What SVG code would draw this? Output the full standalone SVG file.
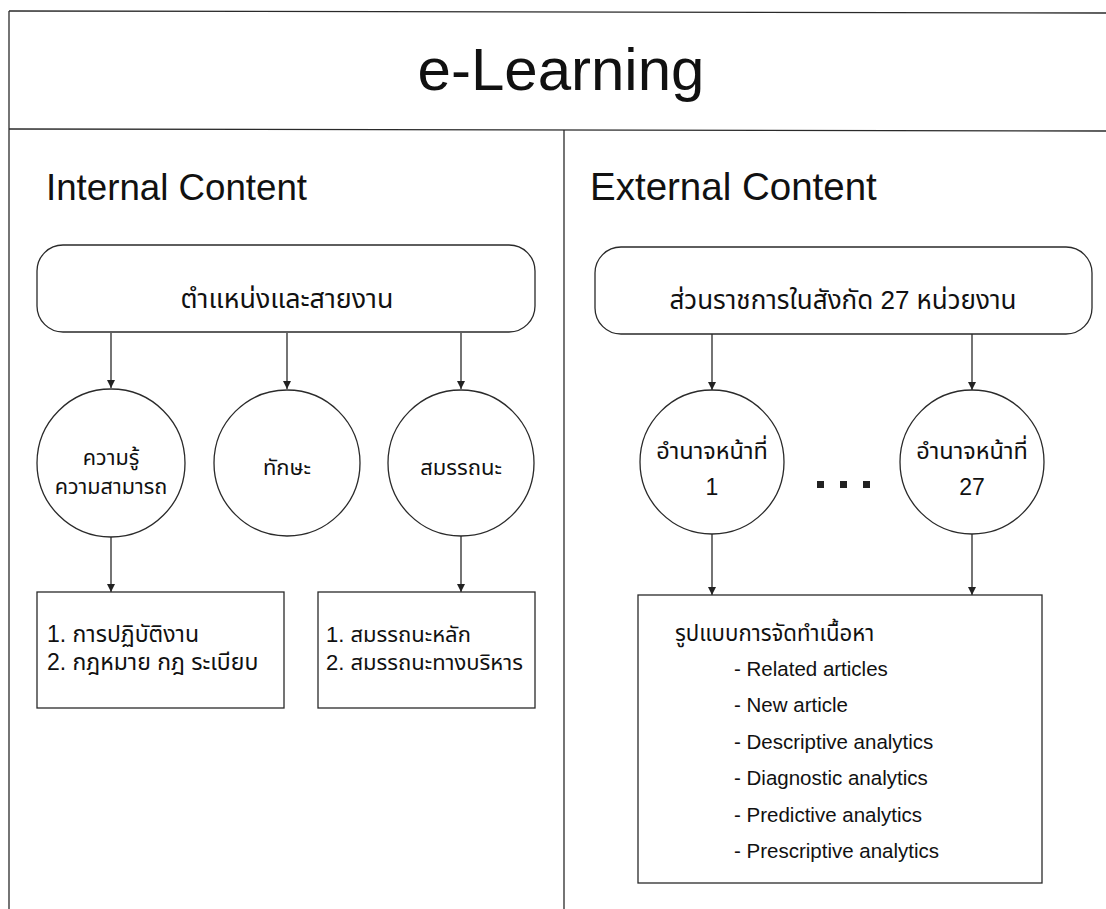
<svg xmlns="http://www.w3.org/2000/svg" width="1106" height="909" viewBox="0 0 1106 909">
<style>
.ln{stroke:#2a2a2a;stroke-width:1.3;fill:none}
.shp{stroke:#2a2a2a;stroke-width:1.3;fill:#fff}
.t{font-family:"Liberation Sans","Noto Sans Thai","Noto Sans",sans-serif;fill:#111}
.c{text-anchor:middle}
</style>
<defs>
<marker id="ah" viewBox="0 0 10 10" refX="10" refY="5" markerWidth="8" markerHeight="8" markerUnits="userSpaceOnUse" orient="auto">
<path d="M0,0 L10,5 L0,10 z" fill="#222"/>
</marker>
</defs>
<rect width="1106" height="909" fill="#fff"/>
<g id="frame">
<line class="ln" x1="9" y1="11" x2="1106" y2="13"/>
<line class="ln" x1="9" y1="11" x2="9" y2="909"/>
<line class="ln" x1="9" y1="129" x2="1106" y2="131"/>
<line class="ln" x1="564" y1="130" x2="564" y2="909"/>
</g>
<text id="title" class="t c" x="561" y="90" font-size="60">e-Learning</text>
<text id="internal" class="t" x="46" y="200" font-size="36.7">Internal Content</text>
<text id="external" class="t" x="590" y="200" font-size="38.5">External Content</text>
<g id="connectors">
<line class="ln" x1="111" y1="333" x2="111" y2="388" marker-end="url(#ah)"/>
<line class="ln" x1="287" y1="333" x2="287" y2="389" marker-end="url(#ah)"/>
<line class="ln" x1="461" y1="333" x2="461" y2="389" marker-end="url(#ah)"/>
<line class="ln" x1="111" y1="537" x2="111" y2="592" marker-end="url(#ah)"/>
<line class="ln" x1="461" y1="536" x2="461" y2="592" marker-end="url(#ah)"/>
<line class="ln" x1="712" y1="334" x2="712" y2="390" marker-end="url(#ah)"/>
<line class="ln" x1="972" y1="334" x2="972" y2="390" marker-end="url(#ah)"/>
<line class="ln" x1="712" y1="534" x2="712" y2="595" marker-end="url(#ah)"/>
<line class="ln" x1="972" y1="534" x2="972" y2="595" marker-end="url(#ah)"/>
</g>
<g id="position">
<rect class="shp" x="37" y="245" width="498" height="87" rx="26"/>
<text class="t c" x="287" y="308" font-size="26.8">ตำแหน่งและสายงาน</text>
</g>
<g id="knowledge">
<circle class="shp" cx="111" cy="463" r="74"/>
<text class="t c" x="111" y="465" font-size="21.6">ความรู้</text>
<text class="t c" x="111" y="494" font-size="21.6">ความสามารถ</text>
</g>
<g id="skill">
<circle class="shp" cx="287" cy="463" r="73"/>
<text class="t c" x="287" y="475" font-size="22">ทักษะ</text>
</g>
<g id="competency">
<circle class="shp" cx="461" cy="463" r="73"/>
<text class="t c" x="461" y="475" font-size="22">สมรรถนะ</text>
</g>
<g id="box-knowledge">
<rect class="shp" x="37" y="592" width="247" height="116"/>
<text class="t" x="47" y="642" font-size="23">1. การปฏิบัติงาน</text>
<text class="t" x="47" y="670" font-size="23">2. กฎหมาย กฎ ระเบียบ</text>
</g>
<g id="box-competency">
<rect class="shp" x="318" y="592" width="217" height="116"/>
<text class="t" x="326" y="642" font-size="22">1. สมรรถนะหลัก</text>
<text class="t" x="326" y="670" font-size="22">2. สมรรถนะทางบริหาร</text>
</g>
<g id="agencies">
<rect class="shp" x="595" y="247" width="497" height="87" rx="26"/>
<text class="t c" x="843" y="309" font-size="26">ส่วนราชการในสังกัด 27 หน่วยงาน</text>
</g>
<g id="duty-1">
<circle class="shp" cx="712" cy="462" r="72"/>
<text class="t c" x="712" y="459" font-size="23.5">อำนาจหน้าที่</text>
<text class="t c" x="712" y="495" font-size="23">1</text>
</g>
<g id="ellipsis">
<rect x="817" y="481" width="7" height="7" fill="#222"/>
<rect x="840" y="481" width="7" height="7" fill="#222"/>
<rect x="863" y="481" width="7" height="7" fill="#222"/>
</g>
<g id="duty-27">
<circle class="shp" cx="972" cy="462" r="72"/>
<text class="t c" x="972" y="459" font-size="23.5">อำนาจหน้าที่</text>
<text class="t c" x="972" y="495" font-size="23">27</text>
</g>
<g id="content-format">
<rect class="shp" x="638" y="595" width="404" height="288"/>
<text class="t" x="675" y="641" font-size="22.2">รูปแบบการจัดทำเนื้อหา</text>
<text class="t" x="734" y="676" font-size="20.5">- Related articles</text>
<text class="t" x="734" y="712" font-size="20.5">- New article</text>
<text class="t" x="734" y="749" font-size="20.5">- Descriptive analytics</text>
<text class="t" x="734" y="785" font-size="20.5">- Diagnostic analytics</text>
<text class="t" x="734" y="822" font-size="20.5">- Predictive analytics</text>
<text class="t" x="734" y="858" font-size="20.5">- Prescriptive analytics</text>
</g>
</svg>
